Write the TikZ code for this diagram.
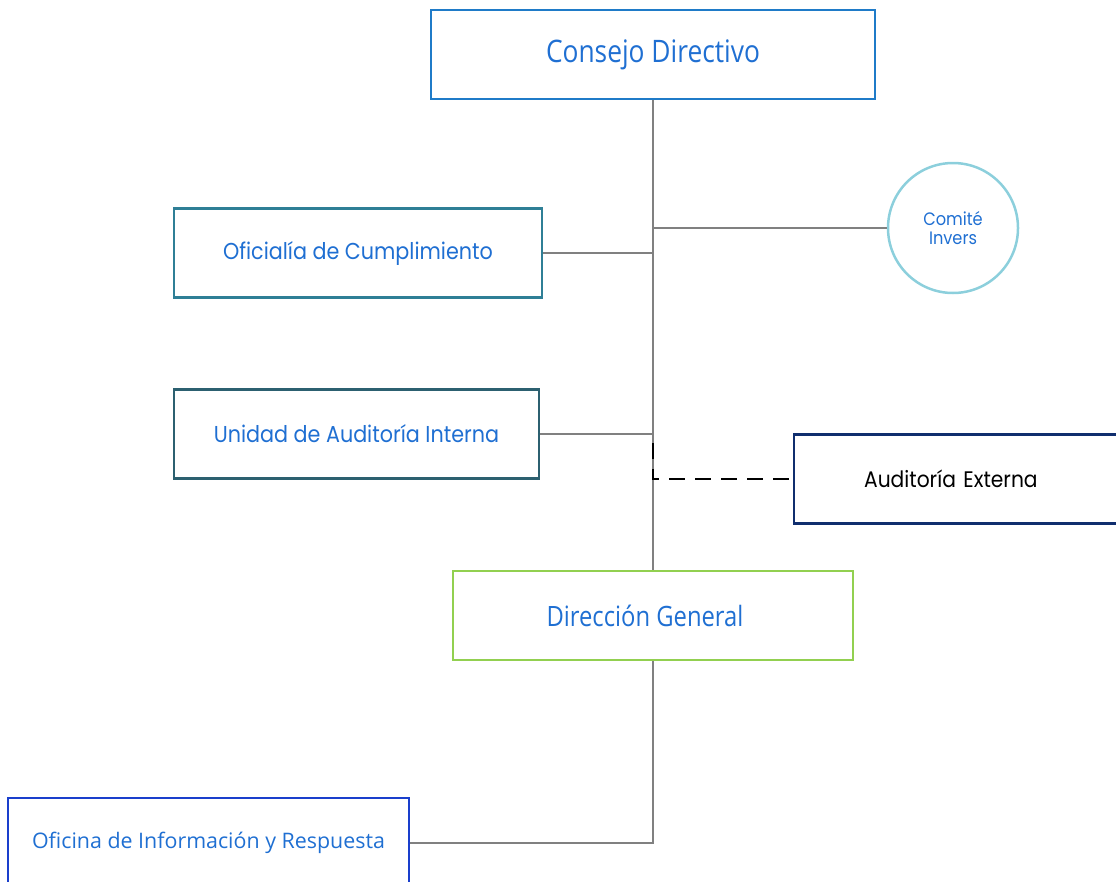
\documentclass[tikz,border=0pt]{standalone}
\usepackage{fontspec}
\setmainfont{Open Sans}
\newfontfamily\segoe[FakeStretch=0.85]{Open Sans}
\newfontfamily\segoewide{Open Sans}
\newfontfamily\gothic[FakeStretch=0.9]{Poppins}
\usepackage{tikz}
\usetikzlibrary{positioning,shapes.geometric}

\definecolor{cdblue}{HTML}{1F7BC8}
\definecolor{txtblue}{HTML}{1F6FD2}
\definecolor{octeal}{HTML}{2F7F96}
\definecolor{uateal}{HTML}{2C6070}
\definecolor{cicyan}{HTML}{8CCFDC}
\definecolor{aenavy}{HTML}{102E6E}
\definecolor{dggreen}{HTML}{92D050}
\definecolor{oiblue}{HTML}{1A3FCC}
\definecolor{linegray}{HTML}{808080}

\begin{document}
\begin{tikzpicture}[
x=1pt,y=-1pt,
unitbox/.style={draw,line width=2.2pt,rectangle,minimum height=89pt,inner sep=0pt,text=txtblue},
unitline/.style={draw=linegray,line width=2pt},
advline/.style={draw=black,line width=2pt,dashed,dash pattern=on 16pt off 10pt},
circ/.style={draw=cicyan,line width=2.5pt,circle,minimum size=130pt,inner sep=0pt,align=center,text=txtblue,font=\gothic\fontsize{18}{19}\selectfont}]
    % Canvas
    \useasboundingbox (0,0) rectangle (1116,881);
    \clip (0,0) rectangle (1116,881);

    % Units
    \node[unitbox,draw=cdblue,minimum width=444pt,font=\segoe\fontsize{31}{34}\selectfont] (consejo) at (653,54.5) {Consejo Directivo};
    \node[unitbox,draw=octeal,minimum width=368pt,font=\gothic\fontsize{23}{25}\selectfont] (oficialia) at (358,253) {Oficialía de Cumplimiento};
    \node[unitbox,draw=uateal,minimum width=365pt,font=\gothic\fontsize{23}{25}\selectfont] (auditint) at (356.5,434) {Unidad de Auditoría Interna};
    \node[circ] (comite) at (953,228) {Comité\\Invers};
    \node[unitbox,draw=aenavy,text=black,anchor=west,text width=300pt,align=left,inner xsep=70pt,font=\gothic\fontsize{22.5}{24}\selectfont] (auditext) at (793,479) {Auditoría Externa};
    \node[unitbox,draw=dggreen,minimum width=400pt,font=\segoe\fontsize{28}{31}\selectfont] (direccion) at (653,615.5) {Dirección General\hspace*{16pt}};
    \node[unitbox,draw=oiblue,minimum width=401pt,minimum height=90pt,font=\segoewide\fontsize{21.4}{24}\selectfont] (oficina) at (208.5,843) {Oficina de Información y Respuesta};

    % Spine
    \coordinate (spine1) at (653,228);
    \coordinate (spine2) at (653,443);
    \draw[unitline] (consejo.south) -- (direccion.north);
    \draw[unitline] (spine1) -- (comite.west);
    \draw[unitline] (oficialia.east) -- (oficialia.east -| consejo.south);
    \draw[unitline] (auditint.east) -- (auditint.east -| consejo.south);

    % External audit
    \draw[advline] (spine2) |- (auditext.west);

    % Below management
    \draw[unitline] (direccion.south) |- (oficina.east);
\end{tikzpicture}
\end{document}
